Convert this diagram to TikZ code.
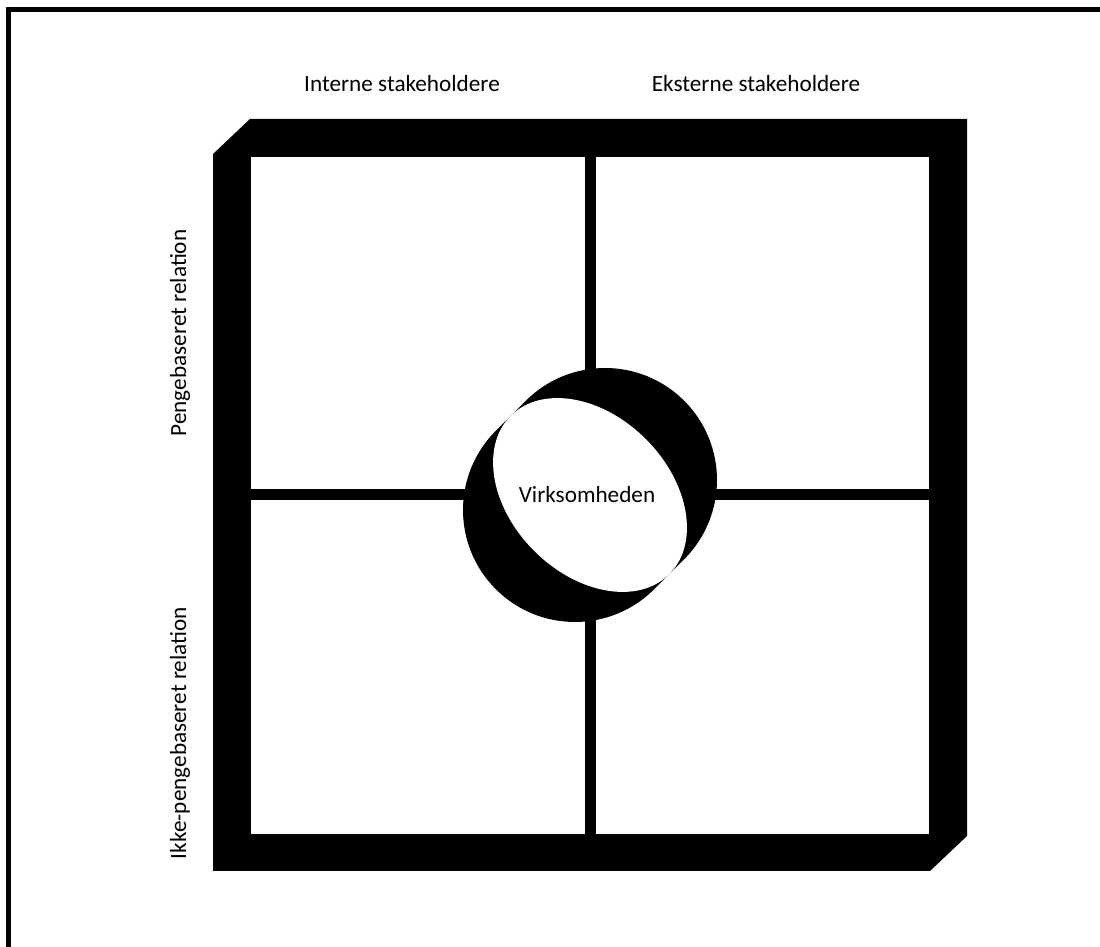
\documentclass[tikz,border=0pt]{standalone}
\usepackage{fontspec}
\setmainfont{Carlito}
\usepackage{tikz}
\usetikzlibrary{calc, positioning}
\tikzstyle{axislabel} = [font=\fontsize{16.5}{20}\selectfont, text=black, inner sep=0pt]
\tikzstyle{divider} = [line width=0.275cm]
\tikzstyle{pageframe} = [line width=0.125cm]

\begin{document}
\begin{tikzpicture}[x=0.025cm, y=0.025cm]
    \useasboundingbox (0,0) rectangle (1100,947);
    \draw [pageframe] (8.5,0) -- (8.5,937.5) -- (1100,937.5);

    % frame around the four quadrants
    \fill [black] (213,793) -- (250,828) -- (967,828) -- (967,111) -- (930,76) -- (213,76) -- cycle;
    \fill [white] (251,113) rectangle (929,790);
    \draw [divider] (590,113) -- (590,790);
    \draw [divider] (251,452) -- (929,452);

    % the company in the middle
    \coordinate (upper) at (605,467);
    \coordinate (lower) at (575,437);
    \fill [black] ($(upper)+(135:112)$) arc [start angle=135, end angle=-45, radius=112]
        -- ($(lower)+(-45:112)$) arc [start angle=-45, end angle=-225, radius=112] -- cycle;
    \fill [white, rotate around={-45:(590,452)}] (590,452) ellipse [x radius=112, y radius=79];
    \node (virksomhed) [axislabel] at (587,452) {Virksomheden};

    \node (interne) [axislabel] at (402,863) {Interne stakeholdere};
    \node (eksterne) [axislabel] at (756,863) {Eksterne stakeholdere};
    \node (penge) [axislabel, rotate=90] at (180,614) {Pengebaseret relation};
    \node (ikkepenge) [axislabel, rotate=90] at (180,214) {Ikke-pengebaseret relation};
\end{tikzpicture}
\end{document}
